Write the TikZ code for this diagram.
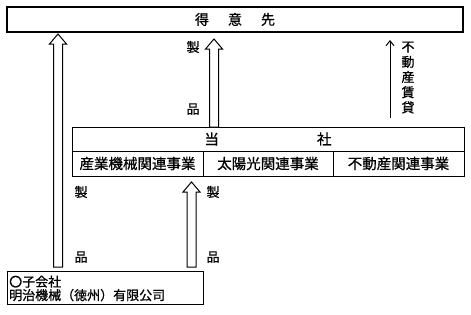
\documentclass[tikz,border=0pt]{standalone}
\usepackage{fontspec}
\setmainfont[FakeBold=0.8]{Noto Sans CJK JP}
\usetikzlibrary{calc,arrows.meta}
\tikzset{
  box/.style={draw, line width=1.2pt, inner sep=0pt, outer sep=0pt, font=\fontsize{14pt}{16pt}\selectfont},
  cell/.style={draw, line width=1pt, inner sep=0pt, outer sep=0pt, font=\fontsize{14.5pt}{16pt}\selectfont},
  lbl/.style={inner sep=0pt, font=\fontsize{13pt}{14pt}\selectfont},
  arrowline/.style={draw, line width=1pt, fill=white},
  thinarrow/.style={line width=1pt, -{Straight Barb[length=5pt,width=8pt,line width=1pt]}}
}
\newcommand\blockarrow[2]{%
  \draw[arrowline] ($(#1)+(-4.5,0)$) -- ($(#2)+(-4.5,10)$) -- ($(#2)+(-8.5,10)$) -- (#2)
    -- ($(#2)+(8.5,10)$) -- ($(#2)+(4.5,10)$) -- ($(#1)+(4.5,0)$) -- cycle;}
\begin{document}
\begin{tikzpicture}[x=1pt,y=-1pt]
\useasboundingbox (0,0) rectangle (471,314);
% customer box
\node[box, minimum width=456pt, minimum height=25pt] (top) at (235,19.5) {得\hspace{19pt}意\hspace{19pt}先};
% company box
\node[cell, minimum width=392pt, minimum height=24pt] (tosha) at (268,139) {当\hspace{98pt}社};
\node[cell, minimum width=131pt, minimum height=25pt] (biz1) at (137.5,163.5) {産業機械関連事業};
\node[cell, minimum width=130pt, minimum height=25pt] (biz2) at (268,163.5) {太陽光関連事業};
\node[cell, minimum width=131pt, minimum height=25pt] (biz3) at (398.5,163.5) {不動産関連事業};
% subsidiary box
\node[cell, minimum width=196pt, minimum height=33pt] (sub) at (105,287.5) {};
\node[lbl, anchor=west, align=left, font=\fontsize{13pt}{13.5pt}\selectfont] (subtext) at (9,288.5) {〇子会社\\明治機械（徳州）有限公司};
% coordinates for arrows
\coordinate (a1s) at (58,267);
\coordinate (a1t) at (58,34);
\coordinate (a2s) at (214,127);
\coordinate (a2t) at (214,39);
\coordinate (a3s) at (191.5,267);
\coordinate (a3t) at (191.5,182);
\coordinate (a4s) at (390,118);
\coordinate (a4t) at (390,40);
\blockarrow{a1s}{a1t}
\blockarrow{a2s}{a2t}
\blockarrow{a3s}{a3t}
\draw[thinarrow] (a4s) -- (a4t);
% labels
\node[lbl] (l1a) at (193,47) {製};
\node[lbl] (l1b) at (193,109) {品};
\node[lbl] (l2a) at (81,192) {製};
\node[lbl] (l2b) at (81,257) {品};
\node[lbl] (l3a) at (213,192) {製};
\node[lbl] (l3b) at (213,257) {品};
\node[lbl, align=center, font=\fontsize{13pt}{15.2pt}\selectfont] (rent) at (408,77.5) {不\\動\\産\\賃\\貸};
\end{tikzpicture}
\end{document}
